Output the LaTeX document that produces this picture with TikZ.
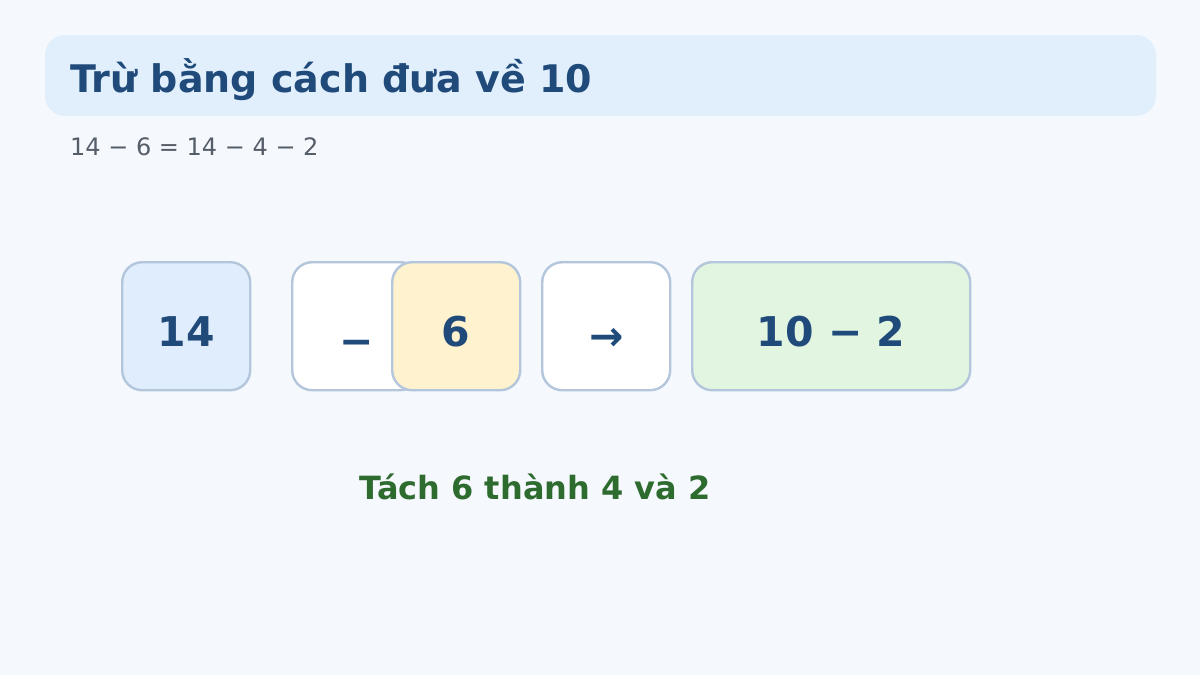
\documentclass[tikz,border=0pt]{standalone}
\usepackage{fontspec}
\setmainfont{DejaVu Sans}
\definecolor{pagebg}{HTML}{F5F9FE}
\definecolor{barfill}{HTML}{E1EFFD}
\definecolor{inkblue}{HTML}{1F4A7A}
\definecolor{subgray}{HTML}{555D68}
\definecolor{cardline}{HTML}{B3C6DB}
\definecolor{bluefill}{HTML}{E0EDFD}
\definecolor{yellowfill}{HTML}{FFF2CE}
\definecolor{greenfill}{HTML}{E2F5E1}
\definecolor{hintgreen}{HTML}{2E6B2F}
\tikzset{
	card/.style={draw=cardline, line width=2.4pt, rounded corners=20pt, anchor=north west,
		minimum width=128pt, inner sep=0pt, text height=84pt, text depth=44pt,
		text=inkblue, font=\bfseries\fontsize{41}{49}\selectfont},
}
\begin{document}
\begin{tikzpicture}[x=1pt, y=-1pt]
			\fill[pagebg] (0,0) rectangle (1200,675);
			\fill[barfill, rounded corners=20pt] (45,35) rectangle (1156,116);
			\node[anchor=base west, inner sep=0pt, text=inkblue, font=\bfseries\fontsize{38}{46}\selectfont] (title) at (70,92) {Trừ bằng cách đưa về 10};
			\node[anchor=base west, inner sep=0pt, text=subgray, font=\fontsize{24}{29}\selectfont] (sum) at (70,155) {14 − 6 = 14 − 4 − 2};
			% the cards
			\node[card, fill=bluefill] (fourteen) at (121,261) {14};
			\node[card, fill=white, text height=93pt, text depth=35pt] (minus) at (291,261) {−};
			\node[card, fill=yellowfill] (six) at (391,261) {6};
			\node[card, fill=white, text height=88pt, text depth=40pt] (arrow) at (541,261) {→};
			\node[card, fill=greenfill, minimum width=278pt] (result) at (691,261) {10 − 2};
			\node[anchor=base, inner sep=0pt, text=hintgreen, font=\bfseries\fontsize{32}{38}\selectfont] (hint) at (535,499) {Tách 6 thành 4 và 2};
		\end{tikzpicture}
\end{document}
